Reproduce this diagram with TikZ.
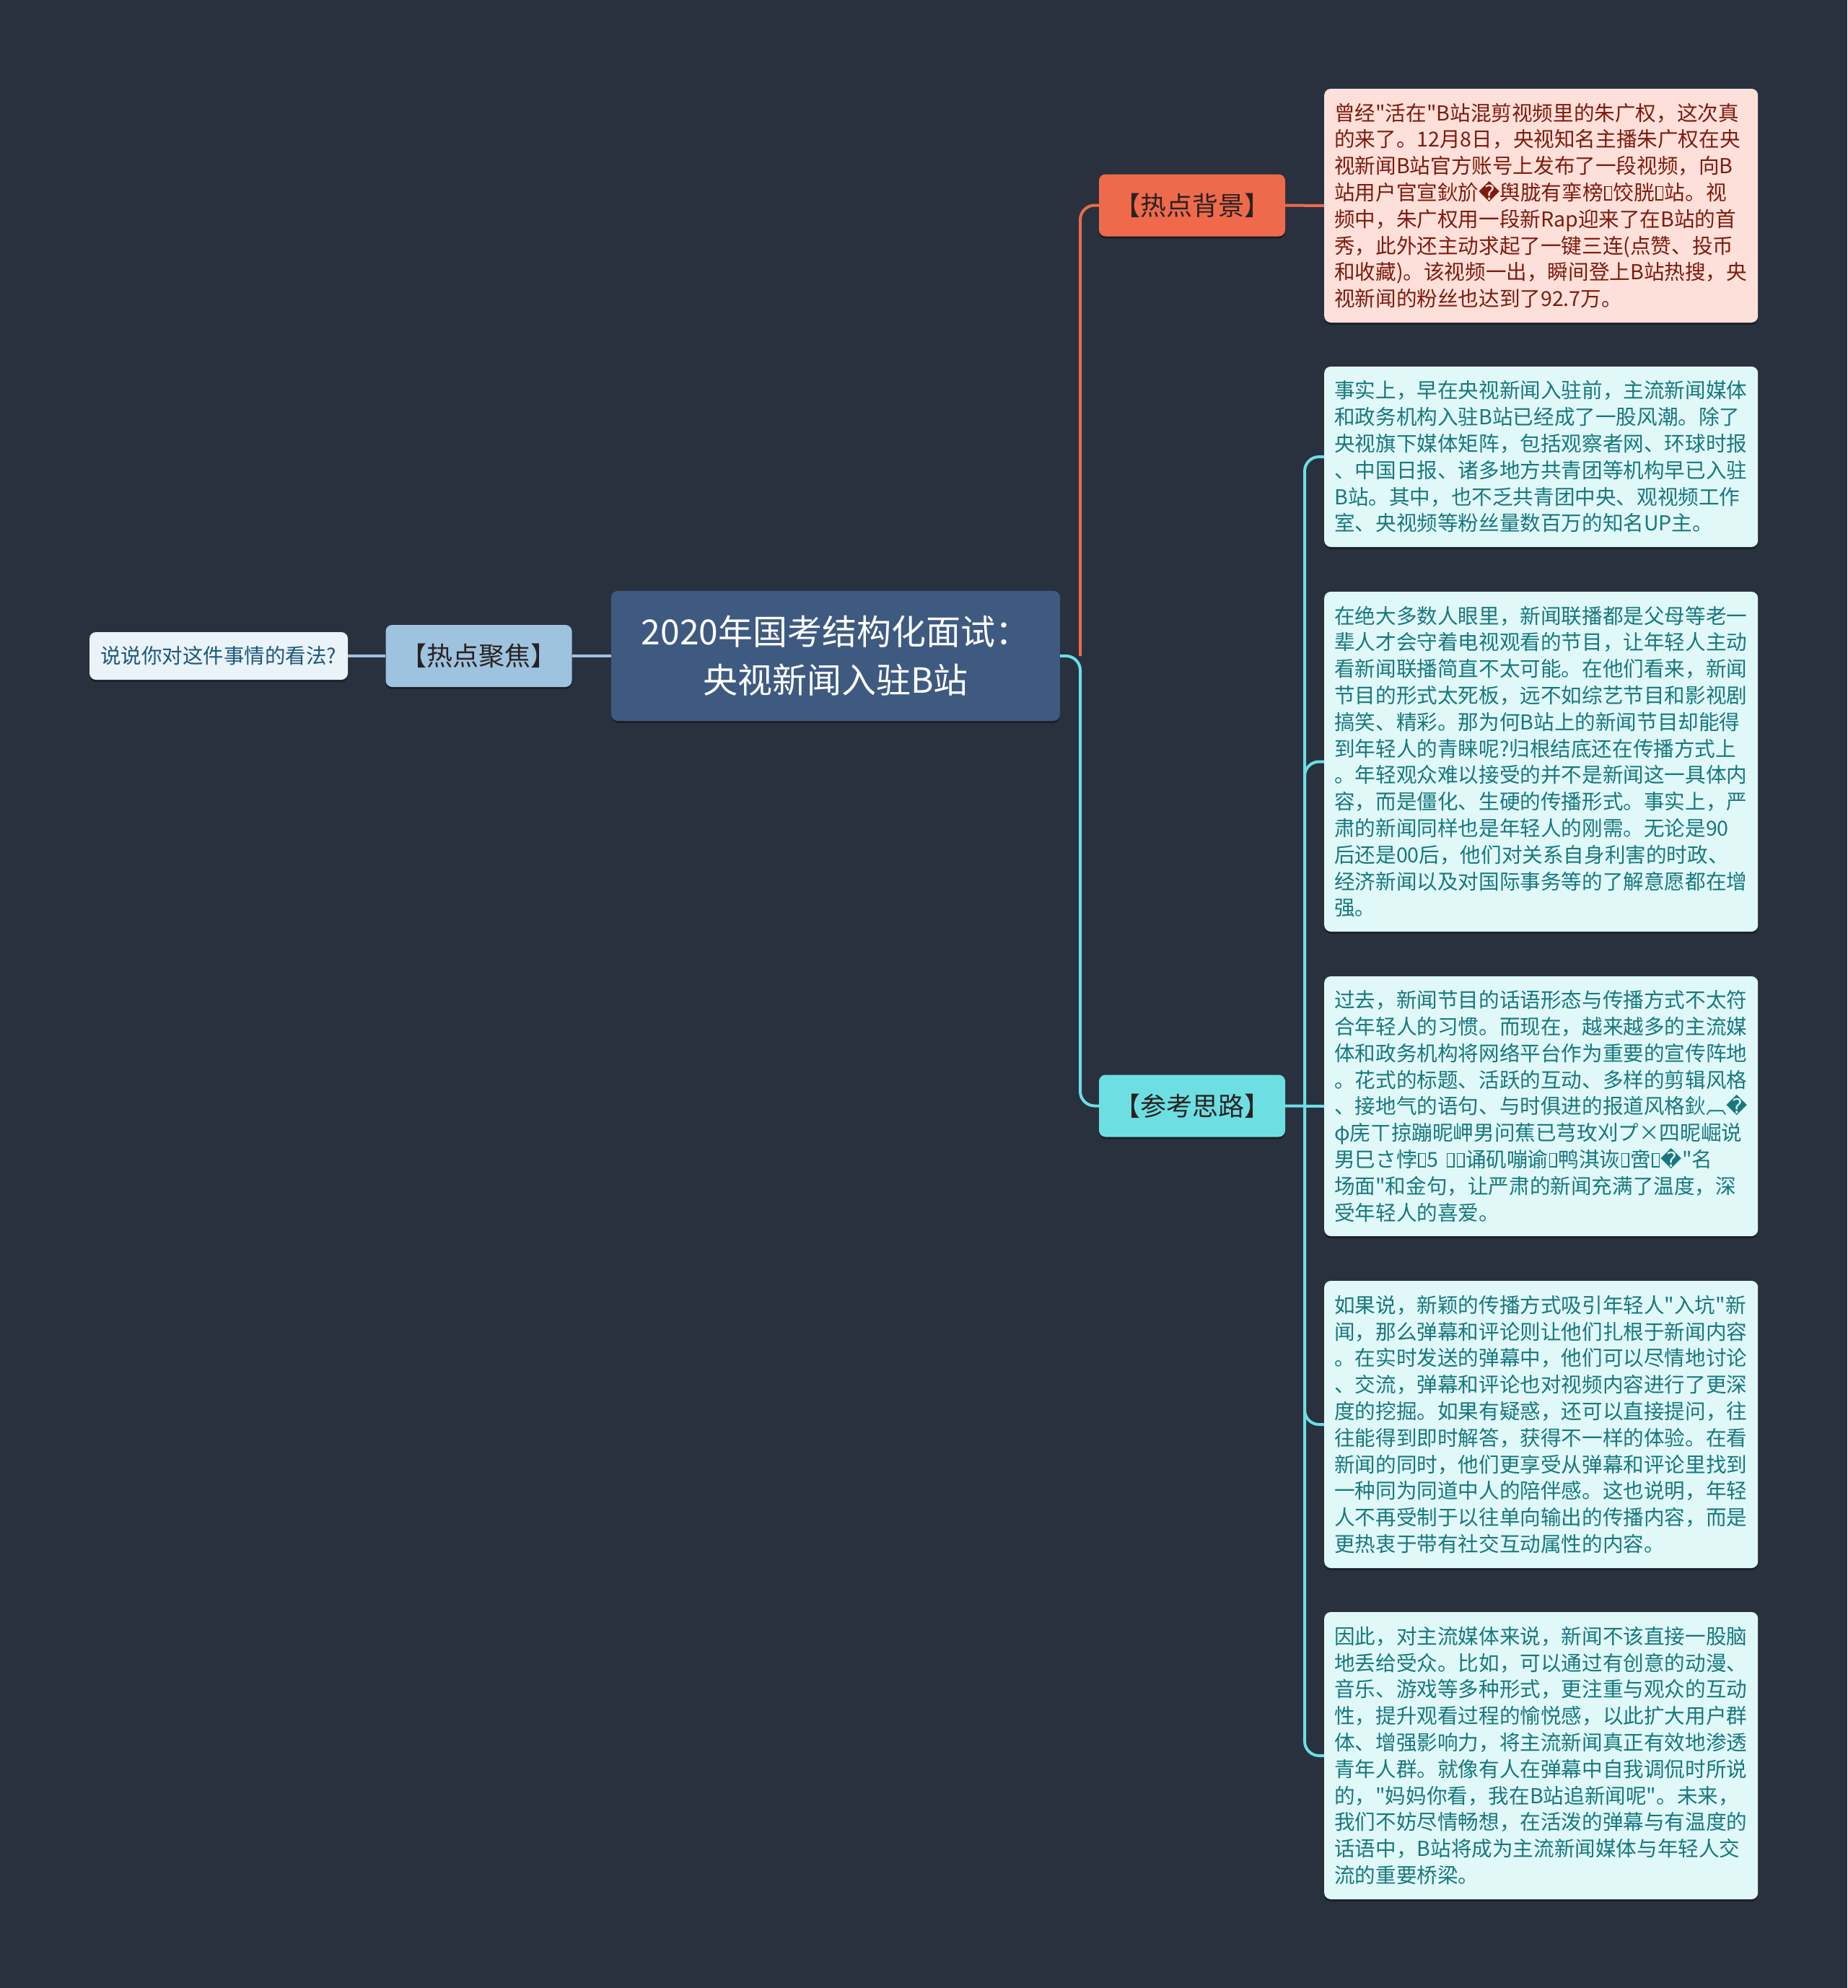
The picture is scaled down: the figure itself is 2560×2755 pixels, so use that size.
\documentclass[tikz,border=0pt]{standalone}
\usepackage{fontspec}
\setmainfont{Noto Sans CJK SC}[Ligatures=TeXOff]
\newfontfamily\dejavu{DejaVu Sans}
\usetikzlibrary{shadows}
\definecolor{bgc}{HTML}{29313F}
\definecolor{rootfill}{HTML}{3E5A80}
\definecolor{focusfill}{HTML}{9EC3DE}
\definecolor{leaffill}{HTML}{E9F3F8}
\definecolor{leaftext}{HTML}{1E587A}
\definecolor{redfill}{HTML}{EF6A4B}
\definecolor{pinkfill}{HTML}{FDE0D9}
\definecolor{pinktext}{HTML}{7D1B0E}
\definecolor{cyanfill}{HTML}{6DDFE3}
\definecolor{lightcyan}{HTML}{E1F8F8}
\definecolor{tealtext}{HTML}{17787E}
\definecolor{darktext}{HTML}{2A2222}
\newcommand\rpl{{\dejavu\symbol{"FFFD}}}
\newcommand\tofu{\hbox{\kern1.5pt\vbox{\hrule height1.5pt\hbox{\vrule width1.5pt height17pt\kern8pt\vrule width1.5pt}\hrule height1.5pt}\kern1.5pt}}
\tikzset{
  shade/.style={drop shadow={opacity=0.35, shadow xshift=0pt, shadow yshift=-3pt, fill=black}},
  rootst/.style={shade, fill=rootfill, text=white, rounded corners=9pt, minimum width=622pt, minimum height=180pt, inner sep=0pt, align=center, font=\fontsize{48}{67}\selectfont},
  mainst/.style={shade, rounded corners=9pt, minimum width=258pt, minimum height=86pt, inner sep=0pt, align=center, text=darktext, font=\fontsize{36}{40}\selectfont},
  leafst/.style={shade, fill=leaffill, text=leaftext, rounded corners=9pt, minimum width=358pt, minimum height=66pt, inner sep=0pt, align=center, font=\fontsize{28.5}{34}\selectfont},
  txtbox/.style={shade, rounded corners=9pt, text width=573pt, inner xsep=14pt, inner ysep=0pt, minimum height=#1, align=left, anchor=west, font=\fontsize{28.6}{36.8}\selectfont},
  redline/.style={draw=redfill, line width=4pt, rounded corners=20pt},
  cyanline/.style={draw=cyanfill, line width=4pt, rounded corners=20pt},
  blueline/.style={draw=focusfill, line width=4pt},
}
\begin{document}
\begin{tikzpicture}[x=1pt,y=-1pt]
\fill[bgc] (0,0) rectangle (2560,2755);
\useasboundingbox (0,0) rectangle (2560,2755);

% spine coordinates
\coordinate (spA) at (1497,909);
\coordinate (spB) at (1808,1533);

% left side
\node[rootst] (root) at (1158,909) {2020年国考结构化面试：\\央视新闻入驻B站};
\node[mainst, fill=focusfill] (focus) at (663.5,909) {【热点聚焦】};
\node[leafst] (leaf) at (303,909) {说说你对这件事情的看法?};

% right main branches
\node[mainst, fill=redfill, text=darktext] (bg) at (1652,284.5) {【热点背景】};
\node[mainst, fill=cyanfill, text=darktext] (sl) at (1652,1532.5) {【参考思路】};

% text boxes
\node[txtbox=324pt, fill=pinkfill, text=pinktext] (b1) at (1835,285) {曾经"活在"B站混剪视频里的朱广权，这次真\\的来了。12月8日，央视知名主播朱广权在央\\视新闻B站官方账号上发布了一段视频，向B\\站用户官宣鈥斺\rpl 舆胧有挛榜\tofu 饺胱\tofu 站。视\\频中，朱广权用一段新Rap迎来了在B站的首\\秀，此外还主动求起了一键三连(点赞、投币\\和收藏)。该视频一出，瞬间登上B站热搜，央\\视新闻的粉丝也达到了92.7万。};

\node[txtbox=250pt, fill=lightcyan, text=tealtext] (b2) at (1835,633) {事实上，早在央视新闻入驻前，主流新闻媒体\\和政务机构入驻B站已经成了一股风潮。除了\\央视旗下媒体矩阵，包括观察者网、环球时报\\、中国日报、诸多地方共青团等机构早已入驻\\B站。其中，也不乏共青团中央、观视频工作\\室、央视频等粉丝量数百万的知名UP主。};

\node[txtbox=471pt, fill=lightcyan, text=tealtext] (b3) at (1835,1055.5) {在绝大多数人眼里，新闻联播都是父母等老一\\辈人才会守着电视观看的节目，让年轻人主动\\看新闻联播简直不太可能。在他们看来，新闻\\节目的形式太死板，远不如综艺节目和影视剧\\搞笑、精彩。那为何B站上的新闻节目却能得\\到年轻人的青睐呢?归根结底还在传播方式上\\。年轻观众难以接受的并不是新闻这一具体内\\容，而是僵化、生硬的传播形式。事实上，严\\肃的新闻同样也是年轻人的刚需。无论是90\\后还是00后，他们对关系自身利害的时政、\\经济新闻以及对国际事务等的了解意愿都在增\\强。};

\node[txtbox=360pt, fill=lightcyan, text=tealtext] (b4) at (1835,1533) {过去，新闻节目的话语形态与传播方式不太符\\合年轻人的习惯。而现在，越来越多的主流媒\\体和政务机构将网络平台作为重要的宣传阵地\\。花式的标题、活跃的互动、多样的剪辑风格\\、接地气的语句、与时俱进的报道风格鈥︹\rpl\\φ庑ㄒ掠蹦昵岬男问蕉已芎玫刈プ×四昵崛说\\男巳さ悖\tofu 5 \tofu\tofu 诵矶嘣谕\tofu 鸭淇诙\tofu 啻\tofu\rpl"名\\场面"和金句，让严肃的新闻充满了温度，深\\受年轻人的喜爱。};

\node[txtbox=398pt, fill=lightcyan, text=tealtext] (b5) at (1835,1974) {如果说，新颖的传播方式吸引年轻人"入坑"新\\闻，那么弹幕和评论则让他们扎根于新闻内容\\。在实时发送的弹幕中，他们可以尽情地讨论\\、交流，弹幕和评论也对视频内容进行了更深\\度的挖掘。如果有疑惑，还可以直接提问，往\\往能得到即时解答，获得不一样的体验。在看\\新闻的同时，他们更享受从弹幕和评论里找到\\一种同为同道中人的陪伴感。这也说明，年轻\\人不再受制于以往单向输出的传播内容，而是\\更热衷于带有社交互动属性的内容。};

\node[txtbox=398pt, fill=lightcyan, text=tealtext] (b6) at (1835,2433) {因此，对主流媒体来说，新闻不该直接一股脑\\地丢给受众。比如，可以通过有创意的动漫、\\音乐、游戏等多种形式，更注重与观众的互动\\性，提升观看过程的愉悦感，以此扩大用户群\\体、增强影响力，将主流新闻真正有效地渗透\\青年人群。就像有人在弹幕中自我调侃时所说\\的，"妈妈你看，我在B站追新闻呢"。未来，\\我们不妨尽情畅想，在活泼的弹幕与有温度的\\话语中，B站将成为主流新闻媒体与年轻人交\\流的重要桥梁。};

% connectors
\draw[blueline] (root.west) -- (focus.east);
\draw[blueline] (focus.west) -- (leaf.east);
\draw[redline] (spA) |- (bg.west);
\draw[cyanline] (root.east) -- (spA) |- (sl.west);
\draw[redline] (bg.east) -- (b1.west);
\draw[cyanline] (sl.east) -- (b4.west);
\draw[cyanline] (spB) |- (b2.west);
\draw[cyanline] (spB) |- (b3.west);
\draw[cyanline] (spB) |- (b5.west);
\draw[cyanline] (spB) |- (b6.west);
\end{tikzpicture}
\end{document}
